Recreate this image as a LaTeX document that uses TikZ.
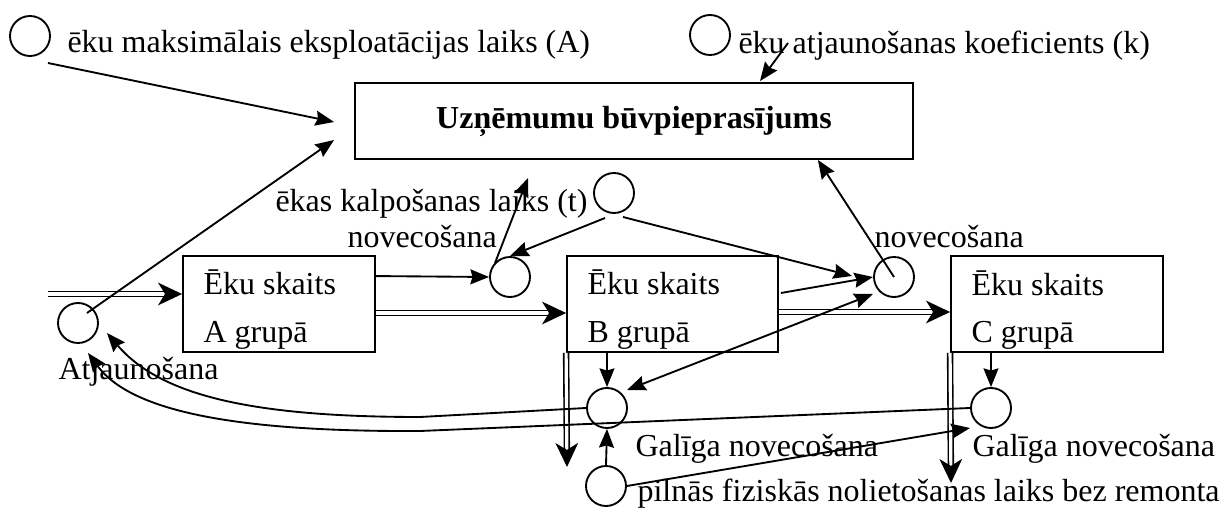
\documentclass[tikz,border=0pt]{standalone}
\usepackage{fontspec}
\setmainfont{Liberation Serif}
\usetikzlibrary{arrows.meta,calc}
% double material-flow pipe with a solid head at its end
\newcommand\drawflow[2]{%
  \draw[flowpipe] (#1) -- (#2);
  \draw[flowhead] ($(#2)!1pt!(#1)$) -- (#2);}
\begin{document}
\begin{tikzpicture}[x=0.375pt,y=-0.375pt,
  >={Stealth[length=7pt,width=5.6pt,inset=0.8pt]},
  every node/.style={font=\fontsize{12pt}{14pt}\selectfont},
  valve/.style={circle,draw,line width=0.7pt,minimum size=15pt,inner sep=0pt},
  stock/.style={draw,line width=0.7pt,minimum height=36pt,inner sep=0pt},
  txt/.style={inner sep=0pt,anchor=base west},
  link/.style={line width=0.7pt,->},
  flowpipe/.style={line width=0.6pt,double,double distance=1.2pt,shorten >=6pt},
  flowhead/.style={line width=0.6pt,-{Stealth[length=9pt,width=8.5pt,inset=2.6pt]}}
]
\useasboundingbox (0,0) rectangle (1219,509);

% auxiliary parameters
\node[valve] (cA) at (30,36) {};
\node[txt] (tA) at (67,53) {ēku maksimālais eksploatācijas laiks (A)};
\node[valve] (cK) at (710,35) {};
\node[txt] (tK) at (738,54) {ēku atjaunošanas koeficients (k)};
\node[valve] (cT) at (614,193) {};
\node[txt] (tT) at (275,212) {ēkas kalpošanas laiks (t)};
\node[valve] (cP) at (606,486) {};
\node[txt] (tP) at (637,502) {pilnās fiziskās nolietošanas laiks bez remonta};

% target quantity
\node[draw,line width=0.7pt,minimum width=209.25pt,minimum height=28.5pt,
  font=\bfseries\fontsize{12pt}{14pt}\selectfont] (main) at (634,121)
  {Uzņēmumu būvpieprasījums};

% building stocks
\node[stock,minimum width=72pt] (gA) at (279,304) {};
\node[stock,minimum width=79.1pt] (gB) at (672.5,304) {};
\node[stock,minimum width=79.5pt] (gC) at (1057,304) {};
\node[txt] (gA1) at (203,295) {Ēku skaits};
\node[txt] (gA2) at (203,343) {A grupā};
\node[txt] (gB1) at (587,295) {Ēku skaits};
\node[txt] (gB2) at (587,343) {B grupā};
\node[txt] (gC1) at (971,296) {Ēku skaits};
\node[txt] (gC2) at (971,343) {C grupā};

% rate valves
\node[valve] (cAtj) at (78,323) {};
\node[txt] (tAtj) at (58,380) {Atjaunošana};
\node[valve] (cN1) at (510,277) {};
\node[txt] (tN1) at (347,248) {novecošana};
\node[valve] (cN2) at (894,277) {};
\node[txt] (tN2) at (874,248) {novecošana};
\node[valve] (cGB) at (607,408) {};
\node[txt] (tGB) at (635,457) {Galīga novecošana};
\node[valve] (cGC) at (991,408) {};
\node[txt] (tGC) at (972,457) {Galīga novecošana};

% flow ends
\coordinate (inflow) at (48,294);
\coordinate (aIn) at ($(gA.west)+(0,-10)$);
\coordinate (aOut) at ($(gA.east)+(0,9)$);
\coordinate (bIn) at ($(gB.west)+(0,9)$);
\coordinate (bOut) at ($(gB.east)+(0,8)$);
\coordinate (cIn) at ($(gC.west)+(0,8)$);
\coordinate (bDown) at (gB.south west);
\coordinate (cDown) at (gC.south west);
\coordinate (outB) at (567,467);
\coordinate (outC) at (951,483);
\coordinate (upN1) at (528,178);

% material flows
\drawflow{inflow}{aIn}
\drawflow{aOut}{bIn}
\drawflow{bOut}{cIn}
\drawflow{bDown}{outB}
\drawflow{cDown}{outC}

% information links
\draw[link] ($(cA.center)+(18,27)$) -- ($(main.west)+(-20,1)$);
\draw[link] ($(cAtj.center)+(9,-10)$) -- ($(main.west)+(-20,19)$);
\draw[link] ($(cK.center)+(78,8)$) -- ($(main.north)+(126,-1)$);
\draw[link] ($(cT.center)+(-9,25)$) -- (cN1.north);
\draw[link] ($(cT.center)+(9,24)$) -- ($(cN2.west)+(-21,-1)$);
\draw[link] ($(gA.north east)+(0,21)$) -- (cN1.west);
\draw[link] ($(gB.east)+(2,-11)$) -- (cN2.west);
\draw[link,<->] ($(cGB.center)+(20,-18)$) -- ($(cN2.center)+(-21,17)$);
\draw[link] (cN2.center) -- ($(main.south east)+(-96,0)$);
\draw[link] ($(cN1.center)+(-15,-14)$) -- (upN1);
\draw[link] (cGB.north |- gB.south) -- (cGB.north);
\draw[link] (cGC.north |- gC.south) -- (cGC.north);
\draw[link] (cP.north) -- (cGB.south);
\draw[link] (cP.east) -- ($(cGC.center)+(-21,20)$);
\draw[link] (cGB.west) -- (420,417) .. controls (250,417) and (160,395) .. ($(cAtj.center)+(29,10)$);
\draw[link] (cGC.west) -- (420,431) .. controls (230,432) and (130,410) .. ($(cAtj.center)+(10,30)$);
\end{tikzpicture}
\end{document}
